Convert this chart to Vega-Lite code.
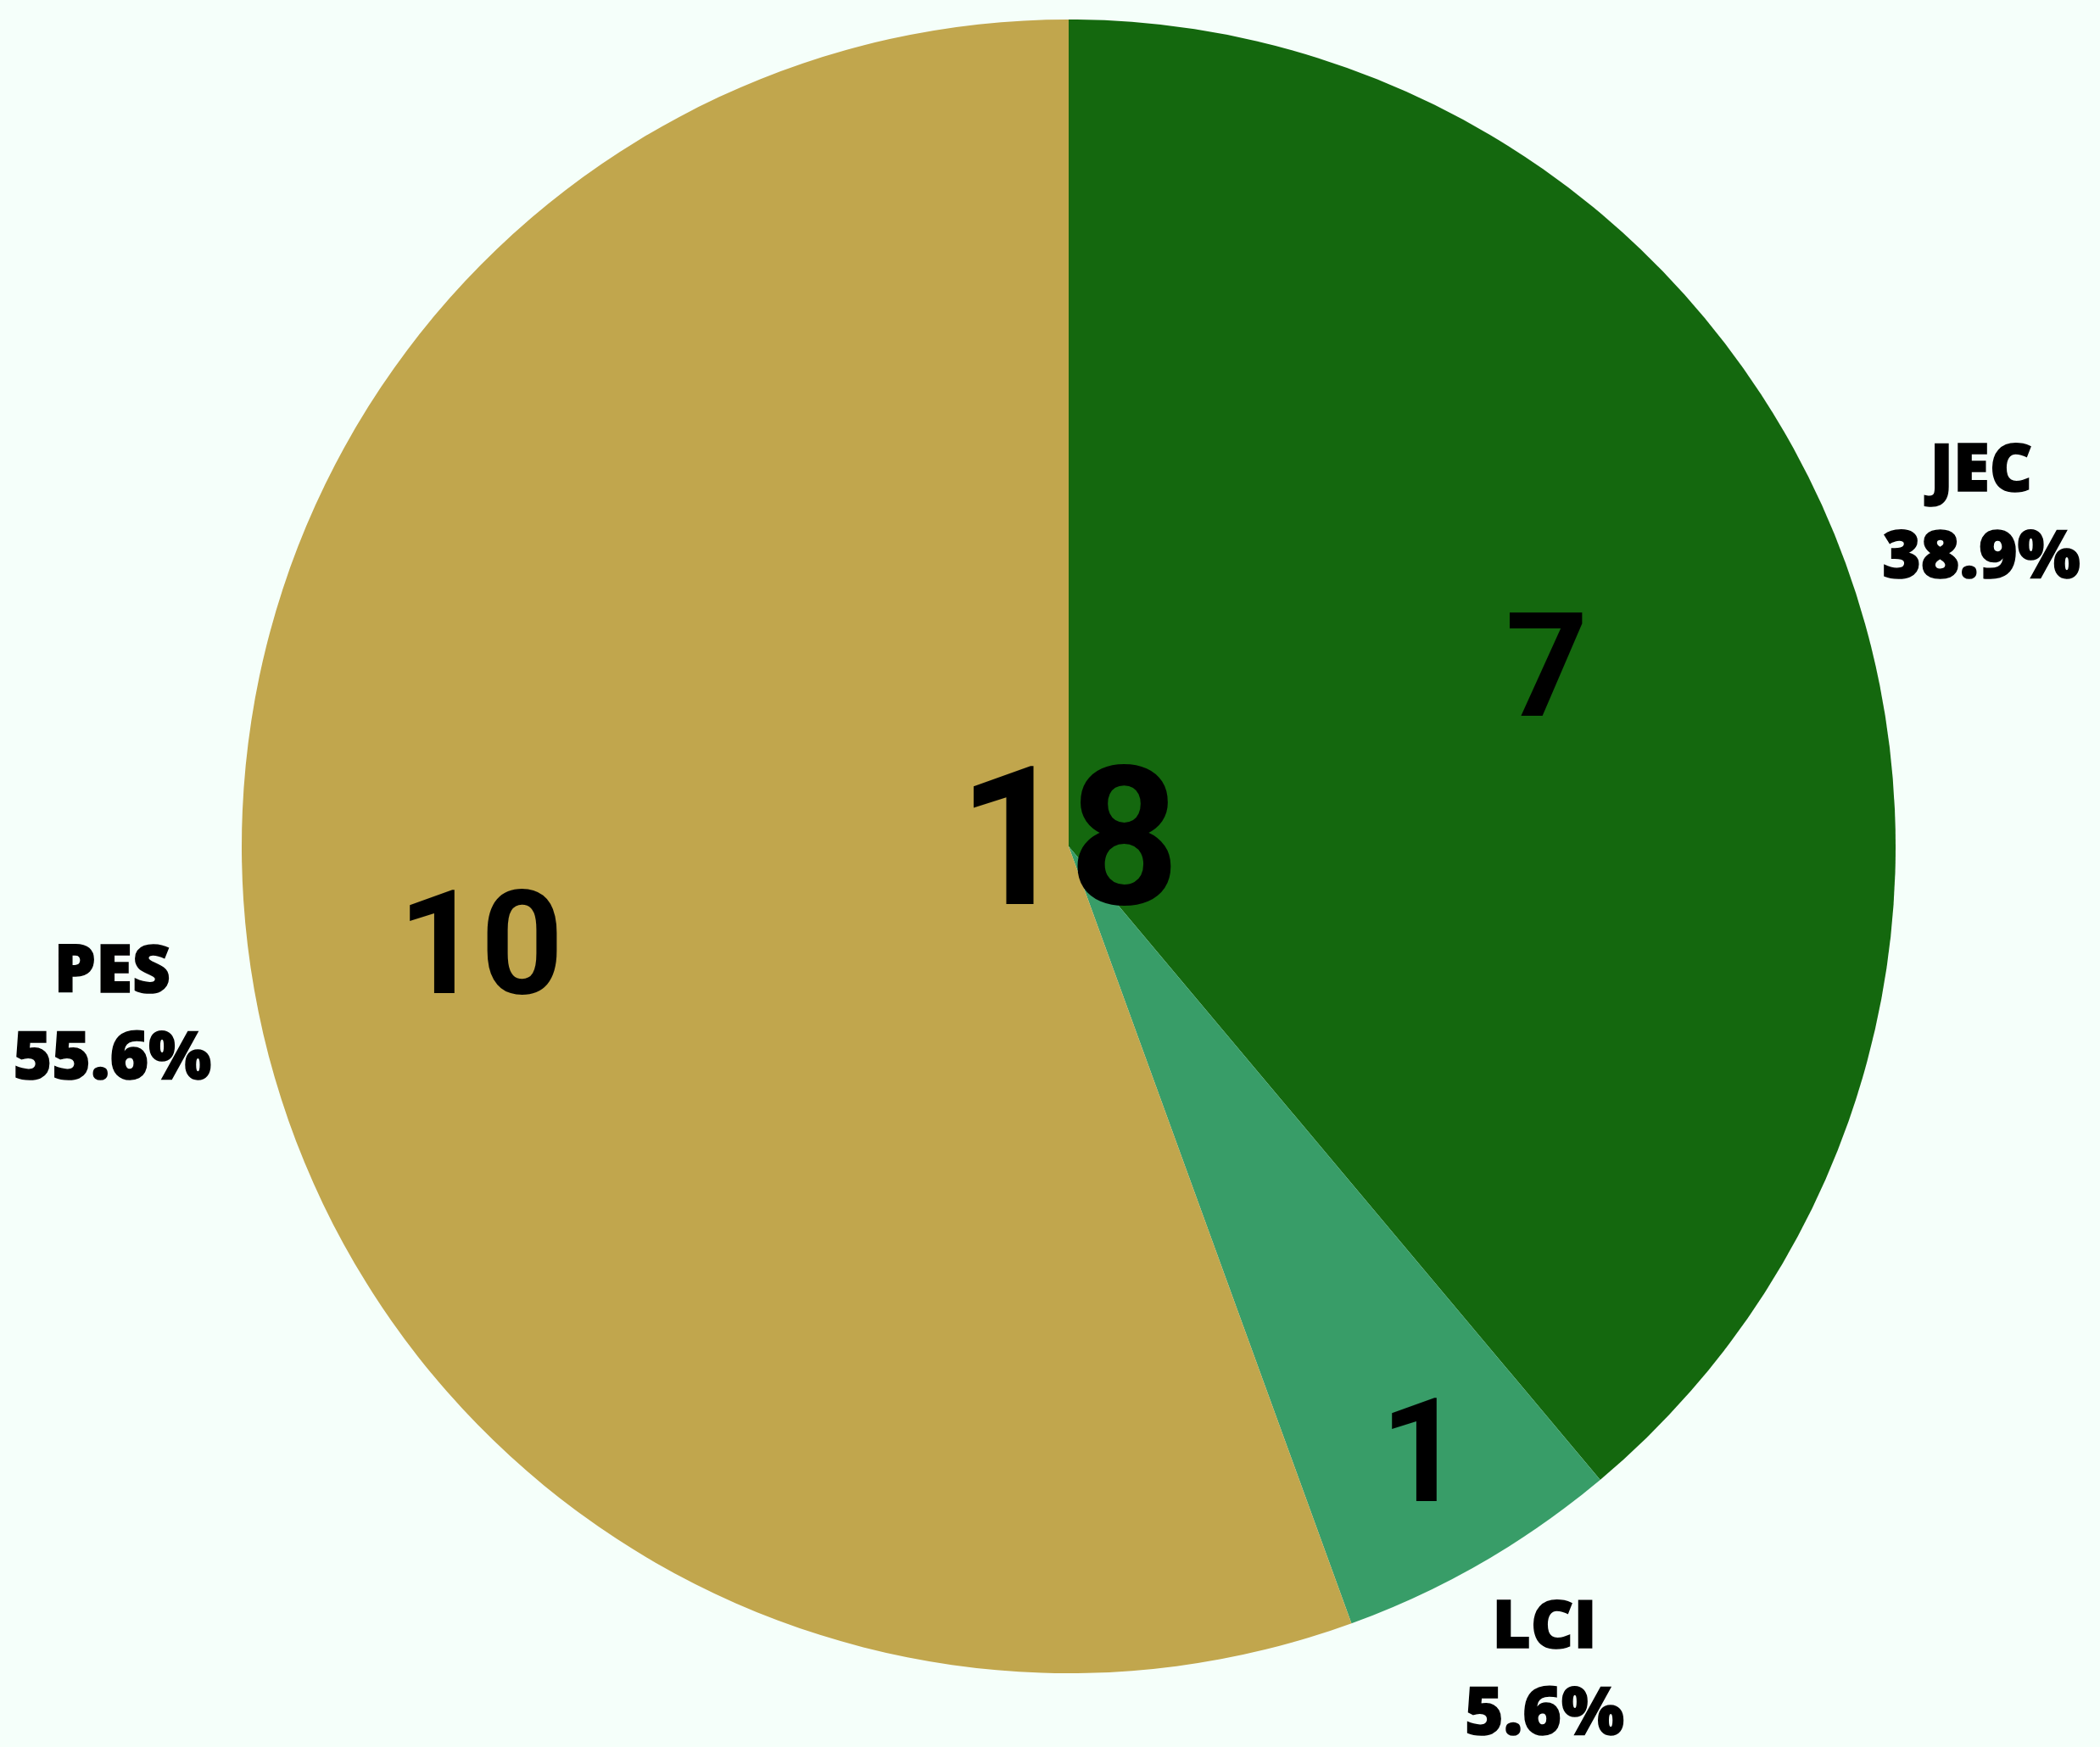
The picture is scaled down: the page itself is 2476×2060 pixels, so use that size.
{
  "$schema": "https://vega.github.io/schema/vega-lite/v6.json",
  "autosize": "none",
  "width": 2520,
  "height": 1996,
  "padding": {"left": 0, "top": 0, "right": 0, "bottom": 64},
  "background": "#f5fffa",
  "config": {"view": {"stroke": null}},
  "data": {
    "values": [
      {"party": "JEC", "seats": 7, "label": ["JEC", "38.9%"]},
      {"party": "LCI", "seats": 1, "label": ["LCI", "5.6%"]},
      {"party": "PES", "seats": 10, "label": ["PES", "55.6%"]}
    ]
  },
  "encoding": {
    "theta": {"field": "seats", "type": "quantitative", "stack": true},
    "order": {"field": "party", "type": "nominal", "sort": "ascending"},
    "color": {
      "field": "party",
      "type": "nominal",
      "scale": {"domain": ["JEC", "LCI", "PES"], "range": ["#14680e", "#389d68", "#c1a64d"]},
      "legend": null
    }
  },
  "layer": [
    {"mark": {"type": "arc", "outerRadius": 975}},
    {
      "mark": {
        "type": "text",
        "radius": {"expr": "datum.party === 'LCI' ? 832 : (datum.party === 'JEC' ? 600 : 704)"},
        "font": "Roboto",
        "fontWeight": "bold",
        "fontSize": 170,
        "baseline": "middle",
        "align": "center"
      },
      "encoding": {
        "text": {"field": "seats", "type": "quantitative"},
        "detail": {"field": "party", "type": "nominal"},
        "color": {"value": "#000000"}
      }
    },
    {
      "mark": {
        "type": "text",
        "radius": {"expr": "datum.party === 'LCI' ? 1122 : 1145"},
        "font": "Open Sans",
        "fontWeight": 800,
        "fontSize": 78,
        "lineHeight": 102,
        "baseline": "middle",
        "align": "center",
        "dy": -50,
        "stroke": "#000000",
        "strokeWidth": 1.5
      },
      "encoding": {
        "text": {"field": "label", "type": "nominal"},
        "detail": {"field": "party", "type": "nominal"},
        "color": {"value": "#000000"}
      }
    },
    {
      "transform": [{"aggregate": [{"op": "sum", "field": "seats", "as": "total"}]}],
      "mark": {
        "type": "text",
        "font": "Roboto",
        "fontWeight": "bold",
        "fontSize": 228,
        "baseline": "middle",
        "align": "center"
      },
      "encoding": {
        "theta": null,
        "order": null,
        "color": {"value": "#000000"},
        "text": {"field": "total", "type": "quantitative"}
      }
    }
  ]
}
